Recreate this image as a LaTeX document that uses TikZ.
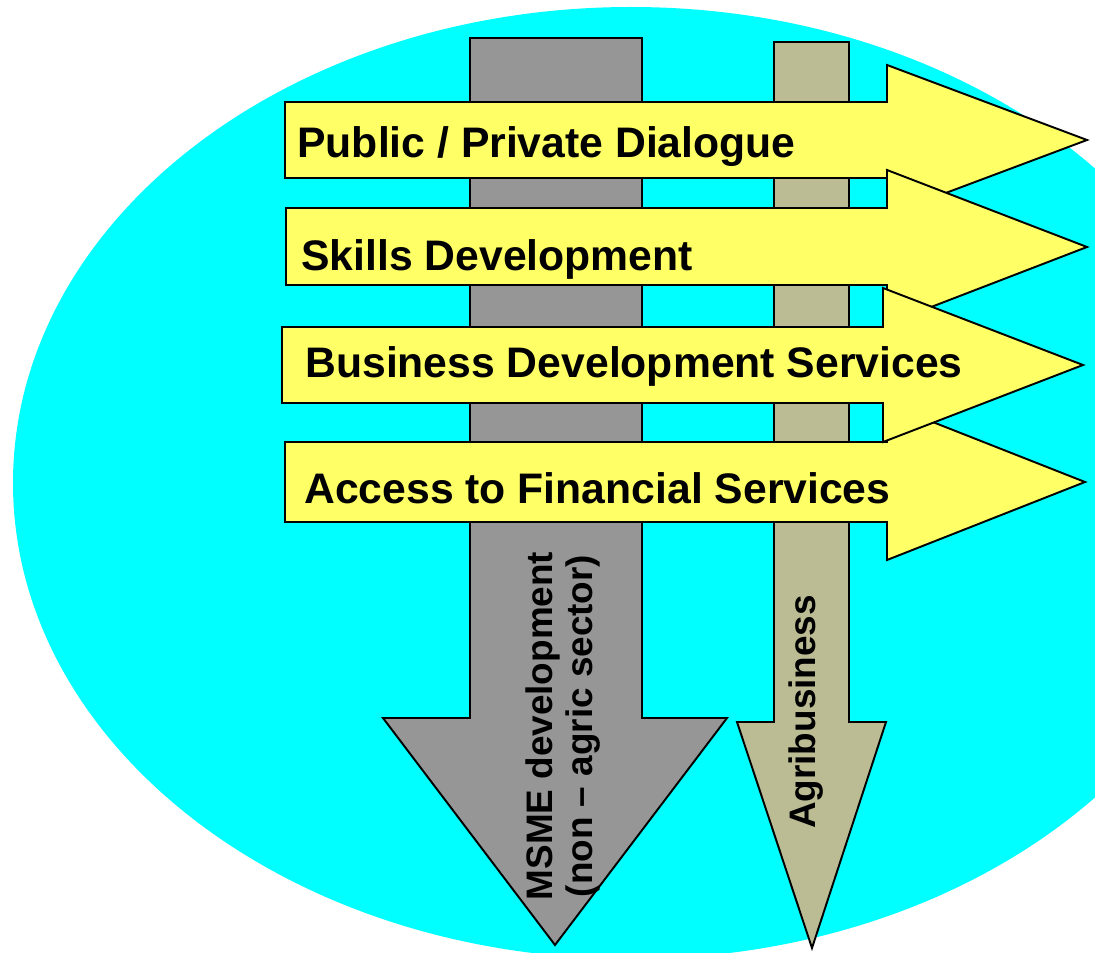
\documentclass[tikz,border=0pt]{standalone}
\usepackage{fontspec}
\setmainfont{Liberation Sans}
\definecolor{bgcyan}{HTML}{00FFFF}
\definecolor{greyarrow}{HTML}{969696}
\definecolor{khaki}{HTML}{BBBB94}
\definecolor{yellowarrow}{HTML}{FFFF66}
\tikzset{
  arrowshape/.style={draw=black, line width=1.1pt, line join=miter},
  hlabel/.style={anchor=base west, inner sep=0pt, font=\fontsize{24.3}{28}\selectfont\bfseries},
  vlabel/.style={rotate=90, inner sep=0pt, align=center, font=\fontsize{21}{22.5}\selectfont\bfseries}
}
\begin{document}
\begin{tikzpicture}[x=0.02cm, y=-0.02cm]
\useasboundingbox (0,0) rectangle (1095,953);
\begin{scope}
\clip (0,0) rectangle (1095,953);
\fill[bgcyan] (631,483) ellipse [x radius=618, y radius=476];
\end{scope}
% vertical arrows
\draw[arrowshape, fill=greyarrow] (470,38) -- (642,38) -- (642,718) -- (727,718) -- (555,945) -- (383,718) -- (470,718) -- cycle;
\draw[arrowshape, fill=khaki] (774,42) -- (849,42) -- (849,722) -- (886,722) -- (812,948) -- (737,722) -- (774,722) -- cycle;
% horizontal arrows
\draw[arrowshape, fill=yellowarrow] (285,102) -- (887,102) -- (887,65) -- (1087,140) -- (887,215) -- (887,178) -- (285,178) -- cycle;
\draw[arrowshape, fill=yellowarrow] (286,208) -- (887,208) -- (887,170) -- (1087,247) -- (887,324) -- (887,285) -- (286,285) -- cycle;
\draw[arrowshape, fill=yellowarrow] (285,442) -- (887,442) -- (887,404) -- (1085,482) -- (887,560) -- (887,522) -- (285,522) -- cycle;
\draw[arrowshape, fill=yellowarrow] (282,327) -- (883,327) -- (883,288) -- (1083,365) -- (883,442) -- (883,403) -- (282,403) -- cycle;
% labels
\node[hlabel] (ppd) at (297,157) {Public / Private Dialogue};
\node[hlabel] (skills) at (301,270) {Skills Development};
\node[hlabel] (bds) at (305,377) {Business Development Services};
\node[hlabel] (afs) at (304,503) {Access to Financial Services};
\node[vlabel] (msme) at (563,726) {MSME development\\(non – agric sector)};
\node[vlabel] (agri) at (806,712) {Agribusiness};
\end{tikzpicture}
\end{document}
